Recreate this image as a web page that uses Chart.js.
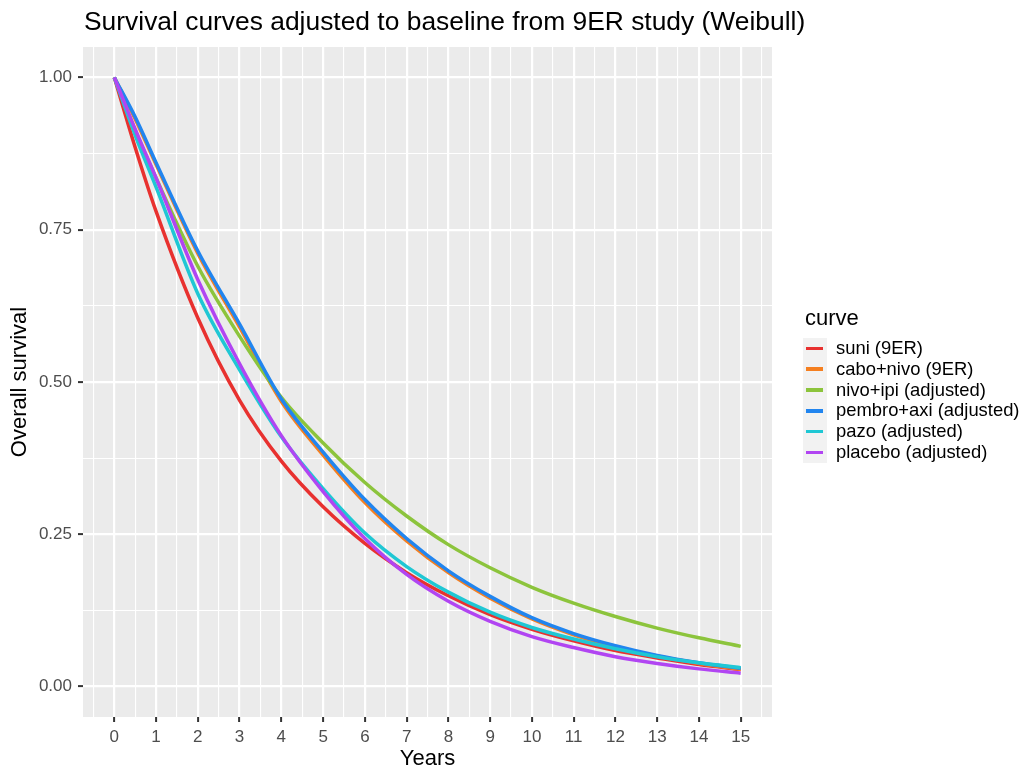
<!DOCTYPE html>
<html>
<head>
<meta charset="utf-8">
<script src="https://cdn.jsdelivr.net/npm/chart.js@4.4.1/dist/chart.umd.min.js"></script>
<style>
  body { margin: 0; background: #fff; font-family: "Liberation Sans", Arial, sans-serif; }
  #wrap { position: relative; width: 1024px; height: 774px; }
  #title { position: absolute; left: 84px; top: 8px; font-size: 26.4px; line-height: 26px; color: #000; white-space: nowrap; }
  #legend { position: absolute; left: 805px; top: 307px; }
  #legend .ttl { font-size: 22px; line-height: 22px; height: 31px; color: #000; }
  #legend .keys { position: absolute; left: -2px; top: 31px; width: 24px; background: #f2f2f2; }
  #legend .row { position: relative; height: 20.8px; display: flex; align-items: center; font-size: 18.4px; line-height: 20.8px; color: #000; white-space: nowrap; }
  #legend .line { width: 17px; height: 3.5px; margin-left: 1px; margin-right: 13px; }
</style>
</head>
<body>
<div id="wrap">
  <canvas id="chart" width="1024" height="774"></canvas>
  <div id="title">Survival curves adjusted to baseline from 9ER study (Weibull)</div>
  <div id="legend"><div class="ttl">curve</div><div class="keys" id="keys"></div><div id="items"></div></div>
</div>
<script>
// years
const years = [0, 0.5, 1, 2, 3, 4, 5, 6, 7, 8, 9, 10, 11, 12, 13, 14, 15];

// overall survival
const suni      = [1, 0.885, 0.78, 0.605, 0.47, 0.37, 0.295, 0.235, 0.187, 0.149, 0.118, 0.094, 0.075, 0.059, 0.047, 0.036, 0.028];
const caboNivo  = [1, 0.932, 0.857, 0.711, 0.59, 0.468, 0.38, 0.302, 0.239, 0.187, 0.145, 0.111, 0.085, 0.065, 0.050, 0.038, 0.028];
const nivoIpi   = [1, 0.913, 0.835, 0.69, 0.575, 0.475, 0.40, 0.335, 0.28, 0.233, 0.195, 0.163, 0.137, 0.115, 0.096, 0.080, 0.066];
const pembroAxi = [1, 0.935, 0.86, 0.715, 0.595, 0.472, 0.385, 0.307, 0.243, 0.19, 0.148, 0.113, 0.087, 0.067, 0.051, 0.039, 0.030];
const pazo      = [1, 0.905, 0.82, 0.645, 0.52, 0.41, 0.325, 0.252, 0.197, 0.155, 0.122, 0.097, 0.078, 0.062, 0.049, 0.039, 0.031];
const placebo   = [1, 0.915, 0.835, 0.668, 0.53, 0.412, 0.32, 0.243, 0.184, 0.14, 0.107, 0.082, 0.064, 0.049, 0.038, 0.029, 0.022];

const seriesNames = ['suni (9ER)', 'cabo+nivo (9ER)', 'nivo+ipi (adjusted)', 'pembro+axi (adjusted)', 'pazo (adjusted)', 'placebo (adjusted)'];
const seriesData = [suni, caboNivo, nivoIpi, pembroAxi, pazo, placebo];
const seriesColors = ['#e8312f', '#f57f20', '#8cc43c', '#2185ef', '#1fc7d4', '#b145f2'];

const xTicks = [0, 1, 2, 3, 4, 5, 6, 7, 8, 9, 10, 11, 12, 13, 14, 15];
const yTicks = [0, 0.25, 0.5, 0.75, 1];
const xRange = [-0.75, 15.75];
const yRange = [-0.05, 1.05];

// majors plus the minor lines halfway between (ggplot style)
function withMinors(majors, lo, hi) {
  const step = majors[1] - majors[0];
  const out = [];
  for (let i = 0; i < majors.length; i++) {
    out.push(majors[i]);
    out.push(majors[i] + step / 2);
  }
  out.push(majors[0] - step / 2);
  return out.filter(v => v >= lo && v <= hi).sort((a, b) => a - b);
}
const isMajor = (v, majors) => majors.some(m => Math.abs(m - v) < 1e-9);

const panelBg = {
  id: 'panelBg',
  beforeDraw(chart) {
    const { ctx, chartArea: a } = chart;
    ctx.save();
    ctx.fillStyle = '#ebebeb';
    ctx.fillRect(a.left, a.top, a.right - a.left, a.bottom - a.top);
    ctx.restore();
  }
};

const datasets = seriesNames.map((name, i) => ({
  label: name,
  data: years.map((t, j) => ({ x: t, y: seriesData[i][j] })),
  borderColor: seriesColors[i],
  backgroundColor: seriesColors[i],
  borderWidth: 3.5,
  pointRadius: 0,
  cubicInterpolationMode: 'monotone',
  order: seriesNames.length - i
}));

const tickFont = { family: '"Liberation Sans", Arial, sans-serif', size: 17 };
const titleFont = { family: '"Liberation Sans", Arial, sans-serif', size: 22 };

new Chart(document.getElementById('chart'), {
  type: 'line',
  data: { datasets },
  options: {
    responsive: false,
    animation: false,
    layout: { padding: { top: 47, right: 252, left: 0, bottom: 0 } },
    plugins: { legend: { display: false }, tooltip: { enabled: false } },
    scales: {
      x: {
        type: 'linear',
        min: xRange[0],
        max: xRange[1],
        afterBuildTicks: s => { s.ticks = withMinors(xTicks, xRange[0], xRange[1]).map(v => ({ value: v })); },
        afterFit: s => { s.height = 57; },
        border: { display: false },
        grid: {
          color: '#ffffff',
          lineWidth: c => isMajor(c.tick.value, xTicks) ? 2.2 : 1.1,
          tickColor: c => isMajor(c.tick.value, xTicks) ? '#333333' : 'rgba(0,0,0,0)',
          tickLength: 5,
          tickWidth: 2
        },
        ticks: {
          autoSkip: false, maxRotation: 0, padding: 5, color: '#4d4d4d', font: tickFont,
          callback: v => isMajor(v, xTicks) ? String(v) : ''
        },
        title: { display: true, text: 'Years', color: '#000', font: titleFont, padding: { top: 0, bottom: 2 } }
      },
      y: {
        type: 'linear',
        min: yRange[0],
        max: yRange[1],
        afterBuildTicks: s => { s.ticks = withMinors(yTicks, yRange[0], yRange[1]).map(v => ({ value: v })); },
        afterFit: s => { s.width = 83; },
        border: { display: false },
        grid: {
          color: '#ffffff',
          lineWidth: c => isMajor(c.tick.value, yTicks) ? 2.2 : 1.1,
          tickColor: c => isMajor(c.tick.value, yTicks) ? '#333333' : 'rgba(0,0,0,0)',
          tickLength: 5,
          tickWidth: 2
        },
        ticks: {
          autoSkip: false, padding: 6, color: '#4d4d4d', font: tickFont,
          callback: v => isMajor(v, yTicks) ? v.toFixed(2) : ''
        },
        title: { display: true, text: 'Overall survival', color: '#000', font: titleFont, padding: { top: 7, bottom: 0 } }
      }
    }
  },
  plugins: [panelBg]
});

// legend built from the same names/colours
const keys = document.getElementById('keys');
const items = document.getElementById('items');
keys.style.height = (seriesNames.length * 20.8) + 'px';
seriesNames.forEach((name, i) => {
  const row = document.createElement('div');
  row.className = 'row';
  row.innerHTML = '<span class="line" style="background:' + seriesColors[i] + '"></span><span>' + name + '</span>';
  items.appendChild(row);
});
</script>
</body>
</html>
